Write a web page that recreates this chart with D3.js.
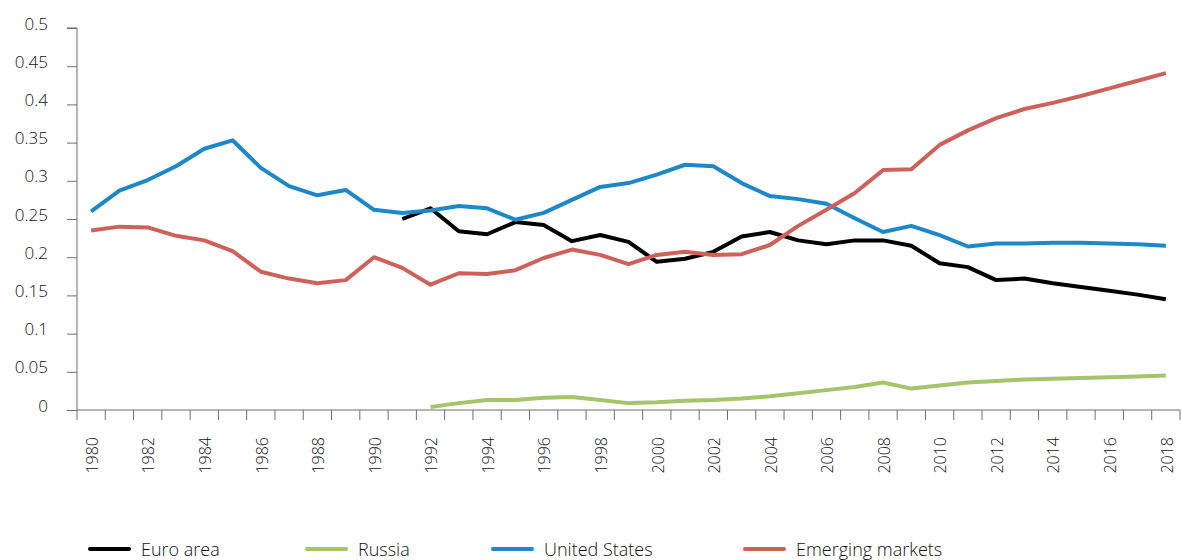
<!DOCTYPE html>
<html>
<head>
<meta charset="utf-8">
<script src="https://cdn.jsdelivr.net/npm/d3@7"></script>
<style>
  body { margin: 0; background: #fff; }
  text { font-family: "Open Sans", "DejaVu Sans", sans-serif; fill: #111; font-weight: 300; }
</style>
</head>
<body>
<svg id="chart" width="1182" height="560"></svg>
<script>
const years = d3.range(1980, 2019);
const yTicks = [0, 0.05, 0.1, 0.15, 0.2, 0.25, 0.3, 0.35, 0.4, 0.45, 0.5];

// null = no data for that year
const euroArea = [null, null, null, null, null, null, null, null, null, null, null,
  0.250, 0.264, 0.234, 0.230, 0.246, 0.242, 0.221, 0.229, 0.220, 0.194,
  0.198, 0.207, 0.227, 0.233, 0.222, 0.217, 0.222, 0.222, 0.215, 0.192,
  0.187, 0.170, 0.172, 0.166, 0.161, 0.156, 0.151, 0.145];
const russia = [null, null, null, null, null, null, null, null, null, null, null, null,
  0.004, 0.009, 0.013, 0.013, 0.016, 0.017, 0.013, 0.009, 0.010,
  0.012, 0.013, 0.015, 0.018, 0.022, 0.026, 0.030, 0.036, 0.028, 0.032,
  0.036, 0.038, 0.040, 0.041, 0.042, 0.043, 0.044, 0.045];
const unitedStates = [0.260, 0.287, 0.301, 0.319, 0.342, 0.353, 0.317, 0.293, 0.281, 0.288,
  0.262, 0.258, 0.261, 0.267, 0.264, 0.249, 0.258, 0.275, 0.292, 0.297,
  0.308, 0.321, 0.319, 0.297, 0.280, 0.276, 0.270, 0.251, 0.233, 0.241,
  0.229, 0.214, 0.218, 0.218, 0.219, 0.219, 0.218, 0.217, 0.215];
const emerging = [0.235, 0.240, 0.239, 0.228, 0.222, 0.208, 0.181, 0.172, 0.166, 0.170,
  0.200, 0.186, 0.164, 0.179, 0.178, 0.183, 0.199, 0.210, 0.203, 0.191,
  0.203, 0.207, 0.203, 0.204, 0.216, 0.241, 0.262, 0.284, 0.314, 0.315,
  0.347, 0.366, 0.382, 0.394, 0.402, 0.411, 0.421, 0.431, 0.441];

const seriesNames = ["Euro area", "Russia", "United States", "Emerging markets"];
const seriesValues = [euroArea, russia, unitedStates, emerging];
const seriesColors = ["#000000", "#a5c46b", "#1d88c8", "#cf615b"];

const svg = d3.select("#chart");
const plotLeft = 77, plotRight = 1180, plotTop = 28, plotBottom = 410;

const x = d3.scaleBand().domain(years).range([plotLeft, plotRight]);
const y = d3.scaleLinear().domain([0, 0.5]).range([plotBottom, plotTop]);

// y axis
const yAxis = svg.append("g").attr("transform", `translate(${plotLeft},0)`)
  .call(d3.axisLeft(y).tickValues(yTicks).tickSize(10).tickPadding(19)
    .tickFormat(d => String(+d.toFixed(2))));
yAxis.selectAll("path,line").attr("stroke", "#6e6e6e");
yAxis.select("path").attr("d", `M-10,${plotTop}H0V${plotBottom}`);
yAxis.selectAll("text").style("font-size", "17px").attr("dy", "0.06em");

// x axis: ticks on band edges, labels every 2 years
const xAxisG = svg.append("g").attr("transform", `translate(0,${plotBottom})`);
xAxisG.append("line").attr("x1", plotLeft).attr("x2", plotRight).attr("stroke", "#6e6e6e");
xAxisG.selectAll("line.tick").data(years.concat([2019])).enter().append("line")
  .attr("class", "tick")
  .attr("x1", d => d === 2019 ? plotRight : x(d))
  .attr("x2", d => d === 2019 ? plotRight : x(d))
  .attr("y1", 0).attr("y2", 10).attr("stroke", "#6e6e6e");
xAxisG.selectAll("text").data(years.filter(d => d % 2 === 0)).enter().append("text")
  .attr("transform", d => `translate(${x(d) + x.bandwidth() / 2 + 1},27) rotate(-90)`)
  .attr("text-anchor", "end")
  .attr("dy", "0.36em")
  .style("font-size", "16px")
  .text(d => d);

// lines
const line = d3.line()
  .defined(d => d.v !== null)
  .x(d => x(d.year) + x.bandwidth() / 2)
  .y(d => y(d.v));

seriesValues.forEach((vals, i) => {
  svg.append("path")
    .datum(years.map((yr, j) => ({ year: yr, v: vals[j] })))
    .attr("fill", "none")
    .attr("stroke", seriesColors[i])
    .attr("stroke-width", 4)
    .attr("stroke-linejoin", "round")
    .attr("d", line);
});

// legend
const legendX = [90, 307, 493, 745];
const legend = svg.append("g");
seriesNames.forEach((name, i) => {
  legend.append("line")
    .attr("x1", legendX[i]).attr("x2", legendX[i] + 39)
    .attr("y1", 549).attr("y2", 549)
    .attr("stroke", seriesColors[i]).attr("stroke-width", 4).attr("stroke-linecap", "round");
  legend.append("text")
    .attr("x", legendX[i] + 51).attr("y", 556)
    .style("font-size", "18px")
    .text(name);
});
</script>
</body>
</html>
